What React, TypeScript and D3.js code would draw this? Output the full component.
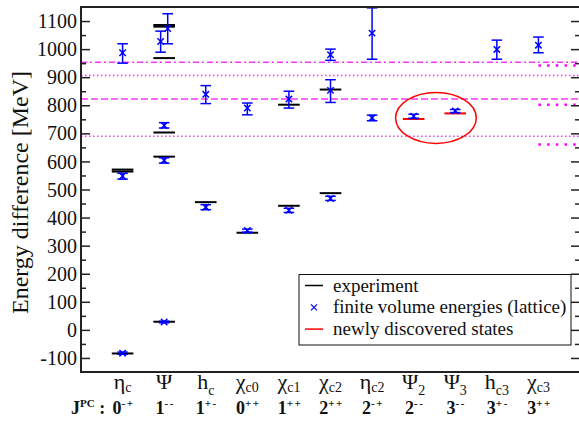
import * as d3 from "d3";
import { useEffect, useRef } from "react";

const W = 579;
const H = 421;

// states along the x axis (placed at 1..11)
const stateSymbols = ["η", "Ψ", "h", "χ", "χ", "χ", "η", "Ψ", "Ψ", "h", "χ"];
const stateSubscripts = ["c", "", "c", "c0", "c1", "c2", "c2", "2", "3", "c3", "c3"];
const spinJ = ["0", "1", "1", "0", "1", "2", "2", "2", "3", "3", "3"];
const parityPC = ["-+", "--", "+-", "++", "++", "++", "-+", "--", "--", "+-", "++"];

// experiment levels: [state, MeV]
const experimentLevels: [number, number][] = [
  [1, -84], [1, 571], [1, 564],
  [2, 29], [2, 617], [2, 703], [2, 968], [2, 1080], [2, 1086],
  [3, 455],
  [4, 346],
  [5, 442], [5, 802],
  [6, 487], [6, 856],
];

// newly discovered states: [state, MeV]
const newStates: [number, number][] = [
  [8, 751],
  [9, 771],
];

// lattice energies: [state, value, lower, upper, side]
const latticeEnergies: [number, number, number, number, number][] = [
  [1, -83, -87, -79, 0], [1, 548, 537, 558, 0], [1, 987, 950, 1019, 0],
  [2, 28, 25, 31, 0], [2, 604, 594, 613, 0], [2, 728, 719, 738, 0],
  [2, 1027, 989, 1064, -1], [2, 1073, 1019, 1126, 1],
  [3, 437, 428, 446, 0], [3, 839, 806, 870, 0],
  [4, 354, 348, 359, 0], [4, 790, 766, 808, 0],
  [5, 426, 418, 433, 0], [5, 822, 790, 850, 0],
  [6, 468, 461, 476, 0], [6, 853, 810, 891, 0], [6, 980, 960, 1000, 0],
  [7, 755, 745, 765, 0], [7, 1057, 964, 1147, 0],
  [8, 761, 754, 768, 0],
  [9, 780, 774, 785, 0],
  [10, 999, 964, 1032, 0],
  [11, 1014, 987, 1043, 0],
];

// thresholds spanning the whole plot
const thresholdLines = [953, 906, 822, 690];
// thresholds shown only for the J=3 column
const j3Thresholds = [942, 802, 660];

const yMajorTicks = [-100, 0, 100, 200, 300, 400, 500, 600, 700, 800, 900, 1000, 1100];
const yMinorTicks = [-50, 50, 150, 250, 350, 450, 550, 650, 750, 850, 950, 1050];

const legendItems = [
  "experiment",
  "finite volume energies (lattice)",
  "newly discovered states",
];

// a single family name; a fallback list did not resolve in the renderer
const SERIF = "Liberation Serif";

const App = () => {
  const svgRef = useRef<SVGSVGElement | null>(null);

  useEffect(() => {
    if (!svgRef.current) return;
    const svg = d3.select(svgRef.current);
    svg.selectAll("*").remove();

    const x = d3.scaleLinear().domain([0, 12]).range([81, 580]);
    const y = d3.scaleLinear().domain([-150, 1150]).range([372, 7]);
    const step = x(1) - x(0);

    // --- threshold lines ---
    const dashes = ["6,3,2,3", "1.5,2.5", "7,3", "1.5,2.5"];
    svg
      .append("g")
      .selectAll("line")
      .data(thresholdLines)
      .join("line")
      .attr("x1", x(0))
      .attr("x2", x(12))
      .attr("y1", (d) => y(d))
      .attr("y2", (d) => y(d))
      .attr("stroke", "#ff33ff")
      .attr("stroke-width", 1.5)
      .attr("stroke-dasharray", (_d, i) => dashes[i]);

    svg
      .append("g")
      .selectAll("line")
      .data(j3Thresholds)
      .join("line")
      .attr("x1", x(11))
      .attr("x2", x(12))
      .attr("y1", (d) => y(d))
      .attr("y2", (d) => y(d))
      .attr("stroke", "#ff00ff")
      .attr("stroke-width", 2.5)
      .attr("stroke-dasharray", "2.5,6.2");

    // --- experiment levels ---
    const half = 10.8;
    svg
      .append("g")
      .selectAll("line")
      .data(experimentLevels)
      .join("line")
      .attr("x1", (d) => x(d[0]) - half)
      .attr("x2", (d) => x(d[0]) + half)
      .attr("y1", (d) => y(d[1]))
      .attr("y2", (d) => y(d[1]))
      .attr("stroke", "#000")
      .attr("stroke-width", 2);

    svg
      .append("g")
      .selectAll("line")
      .data(newStates)
      .join("line")
      .attr("x1", (d) => x(d[0]) - half)
      .attr("x2", (d) => x(d[0]) + half)
      .attr("y1", (d) => y(d[1]))
      .attr("y2", (d) => y(d[1]))
      .attr("stroke", "#ff0000")
      .attr("stroke-width", 2);

    // --- lattice points with error bars ---
    const gLat = svg
      .append("g")
      .attr("stroke", "#0000ff")
      .attr("stroke-width", 1.5)
      .attr("fill", "none");
    const cap = 5.3;
    const m = 3.2;
    latticeEnergies.forEach(([s, v, lo, hi, side]) => {
      const cx = x(s + side * 0.085);
      const g = gLat.append("g");
      g.append("line").attr("x1", cx).attr("x2", cx).attr("y1", y(lo)).attr("y2", y(hi));
      [lo, hi].forEach((e) =>
        g
          .append("line")
          .attr("x1", cx - cap)
          .attr("x2", cx + cap)
          .attr("y1", y(e))
          .attr("y2", y(e))
      );
      const cy = y(v);
      g.append("path").attr("d", `M${cx - m},${cy - m}L${cx + m},${cy + m}M${cx - m},${cy + m}L${cx + m},${cy - m}`);
    });

    // --- ellipse around the new states ---
    svg
      .append("ellipse")
      .attr("cx", x(8.5) + 1.5)
      .attr("cy", y(755))
      .attr("rx", step * 0.97)
      .attr("ry", 25.5)
      .attr("fill", "none")
      .attr("stroke", "#ff0000")
      .attr("stroke-width", 1.5);

    // --- axes (inward ticks) ---
    const styleAxis = (g: any) => {
      g.select(".domain").remove();
      g.attr("font-family", SERIF).attr("font-size", null);
      g.selectAll("line").attr("stroke", "#222").attr("stroke-width", 1.5);
    };
    svg
      .append("g")
      .attr("transform", `translate(${x(0)},0)`)
      .call(d3.axisLeft(y).tickValues(yMajorTicks).tickSize(-9).tickPadding(4).tickFormat((d) => String(d)))
      .call(styleAxis)
      .call((g: any) =>
        g
          .selectAll("text")
          .attr("font-family", SERIF)
          .attr("font-size", 20)
          .attr("fill", "#111")
          .attr("dy", "0.33em")
      );
    svg
      .append("g")
      .attr("transform", `translate(${x(0)},0)`)
      .call(d3.axisLeft(y).tickValues(yMinorTicks).tickSize(-5).tickFormat(() => ""))
      .call(styleAxis);
    svg
      .append("g")
      .attr("transform", `translate(${x(12)},0)`)
      .call(d3.axisRight(y).tickValues(yMajorTicks).tickSize(-9).tickFormat(() => ""))
      .call(styleAxis);
    svg
      .append("g")
      .attr("transform", `translate(${x(12)},0)`)
      .call(d3.axisRight(y).tickValues(yMinorTicks).tickSize(-5).tickFormat(() => ""))
      .call(styleAxis);

    // frame
    svg
      .append("rect")
      .attr("x", x(0))
      .attr("y", y(1150))
      .attr("width", x(12) - x(0))
      .attr("height", y(-150) - y(1150))
      .attr("fill", "none")
      .attr("stroke", "#222")
      .attr("stroke-width", 2);

    // y title
    svg
      .append("text")
      .attr("transform", `translate(28,${y(500) + 3}) rotate(-90)`)
      .attr("text-anchor", "middle")
      .attr("font-family", SERIF)
      .attr("font-size", 24)
      .attr("fill", "#111")
      .text("Energy difference [MeV]");

    // --- x labels ---
    const deepSub = new Set(["h", "Ψ"]);
    const row1 = svg.append("g").attr("font-family", SERIF).attr("fill", "#111");
    stateSymbols.forEach((sym, i) => {
      const sub = stateSubscripts[i];
      const t = row1
        .append("text")
        .attr("x", x(i + 1))
        .attr("y", 389)
        .attr("text-anchor", "middle");
      t.append("tspan").attr("font-size", 22).text(sym);
      if (sub) {
        t.append("tspan")
          .attr("font-size", 14)
          .attr("dy", deepSub.has(sym) ? 6 : 3)
          .text(sub);
      }
    });

    const row2 = svg
      .append("g")
      .attr("font-family", SERIF)
      .attr("font-weight", "bold")
      .attr("fill", "#111");
    const jl = row2.append("text").attr("x", 71).attr("y", 414);
    jl.append("tspan").attr("font-size", 18).text("J");
    jl.append("tspan").attr("font-size", 11).attr("dy", -7).text("PC");
    jl.append("tspan").attr("font-size", 18).attr("dy", 7).text(" :");
    spinJ.forEach((j, i) => {
      const t = row2
        .append("text")
        .attr("x", x(i + 1) + 1)
        .attr("y", 414)
        .attr("text-anchor", "middle");
      t.append("tspan").attr("font-size", 18).text(j);
      t.append("tspan")
        .attr("font-size", 11)
        .attr("dy", -7)
        .attr("letter-spacing", 1.5)
        .text(parityPC[i]);
    });

    // --- legend ---
    const lg = svg.append("g");
    lg.append("rect")
      .attr("x", 299)
      .attr("y", 274.5)
      .attr("width", 272)
      .attr("height", 70.5)
      .attr("fill", "#fff")
      .attr("stroke", "#111")
      .attr("stroke-width", 1);
    const colors = ["#000", "#0000ff", "#ff0000"];
    legendItems.forEach((label, i) => {
      const by = 291.5 + i * 21.8;
      const sy = by - 6;
      if (i === 1) {
        const cx = 314;
        const mm = 3;
        lg.append("path")
          .attr("d", `M${cx - mm},${sy - mm}L${cx + mm},${sy + mm}M${cx - mm},${sy + mm}L${cx + mm},${sy - mm}`)
          .attr("stroke", colors[i])
          .attr("stroke-width", 1.2);
      } else {
        lg.append("line")
          .attr("x1", 305)
          .attr("x2", 323)
          .attr("y1", sy)
          .attr("y2", sy)
          .attr("stroke", colors[i])
          .attr("stroke-width", 1.5);
      }
      lg.append("text")
        .attr("x", 333)
        .attr("y", by)
        .attr("font-family", SERIF)
        .attr("font-size", 19)
        .attr("fill", "#111")
        .text(label);
    });
  }, []);

  return (
    <svg
      ref={svgRef}
      width={W}
      height={H}
      style={{ position: "absolute", left: 0, top: 0, background: "#fff" }}
    />
  );
};

export default App;
